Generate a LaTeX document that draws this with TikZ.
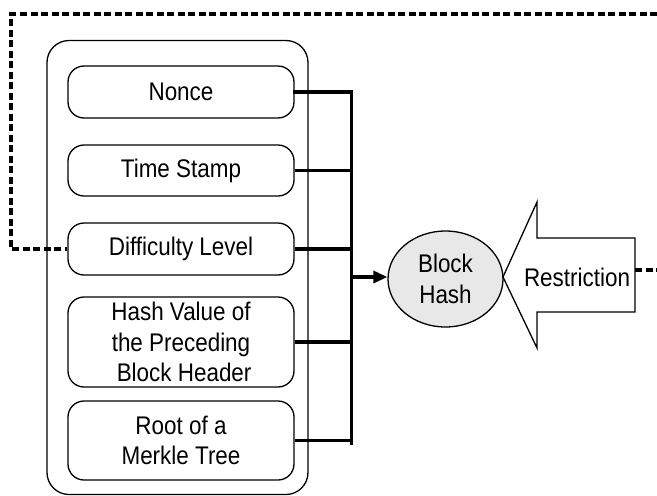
\documentclass[tikz,border=0pt]{standalone}
\usepackage{fontspec}
\setmainfont{Liberation Sans}[FakeStretch=0.88]
\usetikzlibrary{arrows.meta,shapes.geometric}
\begin{document}
\begin{tikzpicture}[x=1pt,y=-1pt,
  field/.style={draw,line width=1.3pt,rounded corners=16pt,minimum width=226pt,align=center,inner sep=0pt,font=\fontsize{25.5}{30.5}\selectfont},
  outerbox/.style={draw,line width=1.3pt,rounded corners=22pt,minimum width=261pt,minimum height=454pt},
  bus/.style={line width=3.3pt,line join=miter},
  fb/.style={line width=3.6pt,dash pattern=on 7pt off 3.5pt},
  lbl/.style={font=\fontsize{25.5}{30.5}\selectfont,align=center,inner sep=0pt}]
\useasboundingbox (0,0) rectangle (657,496);
\node[outerbox] (outer) at (177.5,267.5) {};
\node[field,minimum height=52pt] (nonce) at (181,92) {Nonce};
\node[field,minimum height=51pt] (time) at (181,170.5) {Time Stamp};
\node[field,minimum height=52pt] (diff) at (181,249) {Difficulty Level};
\node[field,minimum height=90pt] (hash) at (181,342) {Hash Value of\\the Preceding\\\ Block Header};
\node[field,minimum height=79pt] (root) at (181,440.5) {Root of a\\Merkle Tree};
\node[ellipse,draw,line width=1.3pt,fill=black!9,minimum width=115pt,minimum height=96pt,inner sep=0pt,lbl] (bh) at (445.5,279) {Block\\Hash};
\coordinate (bt) at (351.5,92);
\coordinate (bb) at (351.5,445);
\draw[bus] (bt) -- (bb);
\foreach \n in {nonce,time,diff,hash,root} \draw[bus] (\n.east) -- (\n.east -| bt);
\draw[bus,line cap=rect] (nonce.east) -- (bt);
\coordinate (j) at (351.5,277);
\draw[bus,-{Triangle[length=14pt,width=12pt]}] (j) -- (j -| bh.west);
% restriction arrow
\draw[line width=1.3pt,line join=miter] (503,277) -- (537,202) -- (537,238) -- (635,238) -- (635,312) -- (537,312) -- (537,348) -- cycle;
\node[lbl] (restr) at (577,277) {Restriction};
\coordinate (rr) at (635,270);
\coordinate (re) at (657,270);
\draw[fb] (rr) -- (re);
\coordinate (tr) at (657,14);
\coordinate (tl) at (11,14);
\draw[fb] (tr) -- (tl) |- (diff.west);
\end{tikzpicture}
\end{document}
